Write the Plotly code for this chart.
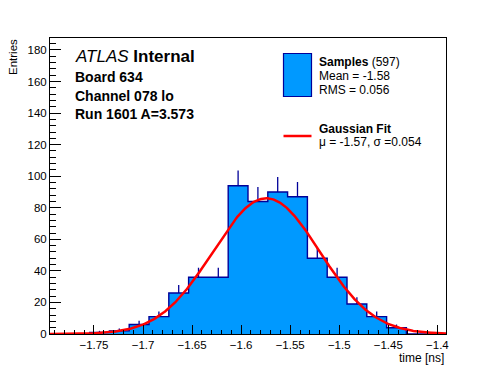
import numpy as np
import plotly.graph_objects as go

# ---------------- data ----------------
x_min, x_max = -1.7948, -1.3912          # histogram range (ns)
counts = [0, 0, 1, 2, 6, 11, 26, 36, 36, 94, 84, 90, 87, 48, 36, 19, 11, 4, 0, 0]
fit_amp, fit_mu, fit_sigma = 86.0, -1.5743, 0.0545

x_tickvals = [-1.75, -1.7, -1.65, -1.6, -1.55, -1.5, -1.45, -1.4]
x_ticktext = ["\u22121.75", "\u22121.7", "\u22121.65", "\u22121.6", "\u22121.55", "\u22121.5", "\u22121.45", "\u22121.4"]
y_tickvals = [0, 20, 40, 60, 80, 100, 120, 140, 160, 180]
y_max = 187.6

info_lines = ["<i>ATLAS</i> <b>Internal</b>", "<b>Board 634</b>", "<b>Channel 078 lo</b>", "<b>Run 1601 A=3.573</b>"]
legend_hist = ["<b>Samples</b> (597)", "Mean = -1.58", "RMS = 0.056"]
legend_fit = ["<b>Gaussian Fit</b>", "\u03bc = -1.57, \u03c3 =0.054"]

FILL = "#0099ff"
EDGE = "#000099"
FONT = "Liberation Sans, Arial, Helvetica, sans-serif"

# ---------------- derived ----------------
n_bins = len(counts)
edges = np.linspace(x_min, x_max, n_bins + 1)
centers = 0.5 * (edges[:-1] + edges[1:])
cnt = np.array(counts, dtype=float)
errs = np.sqrt(cnt)
xf = np.linspace(x_min, x_max, 500)
yf = fit_amp * np.exp(-0.5 * ((xf - fit_mu) / fit_sigma) ** 2)

W, H = 496, 372
L, R, T, B = 50, 446, 38, 334
def px(x):
    return (x - L) / (R - L)
def py(y):
    return (B - y) / (B - T)

fig = go.Figure()
fig.add_trace(go.Scatter(
    x=list(edges), y=list(cnt) + [cnt[-1]], mode="lines", line_shape="hv",
    line=dict(color=EDGE, width=1.4), fill="tozeroy", fillcolor=FILL,
    hoverinfo="skip", showlegend=False))
fig.add_trace(go.Scatter(
    x=centers, y=cnt, mode="markers", marker=dict(size=1, color="rgba(0,0,0,0)"),
    error_y=dict(type="data", symmetric=False, array=errs, arrayminus=np.zeros(n_bins),
                 width=0, color=EDGE, thickness=1.3),
    showlegend=False))
fig.add_trace(go.Scatter(x=xf, y=yf, mode="lines", line=dict(color="#ff0000", width=2.5),
                         showlegend=False))

ann = []
# info block
info_y = [56.7, 76.7, 96.0, 113.7]
info_size = [17, 14, 14, 14]
for t, yy, s in zip(info_lines, info_y, info_size):
    ann.append(dict(text=t, x=px(73), y=py(yy), xref="paper", yref="paper",
                    xanchor="left", yanchor="middle", showarrow=False,
                    font=dict(family=FONT, size=s, color="black")))
# legend text
for t, yy in zip(legend_hist, [61.7, 76.0, 90.0]):
    ann.append(dict(text=t, x=px(317), y=py(yy), xref="paper", yref="paper",
                    xanchor="left", yanchor="middle", showarrow=False,
                    font=dict(family=FONT, size=12, color="black")))
for t, yy in zip(legend_fit, [129.3, 141.5]):
    ann.append(dict(text=t, x=px(317), y=py(yy), xref="paper", yref="paper",
                    xanchor="left", yanchor="middle", showarrow=False,
                    font=dict(family=FONT, size=12, color="black")))
# axis titles
ann.append(dict(text="Entries", x=px(13), y=py(37), xref="paper", yref="paper",
                xanchor="center", yanchor="top", textangle=-90, showarrow=False,
                font=dict(family=FONT, size=11.5, color="black")))
ann.append(dict(text="time [ns]", x=1.0, y=py(357.5), xref="paper", yref="paper",
                xanchor="right", yanchor="middle", showarrow=False,
                font=dict(family=FONT, size=12, color="black")))

shapes = [
    dict(type="rect", xref="paper", yref="paper", x0=px(283.5), x1=px(311.5),
         y0=py(96.5), y1=py(53.5), fillcolor=FILL, line=dict(color=EDGE, width=1.2)),
    dict(type="line", xref="paper", yref="paper", x0=px(283.5), x1=px(311.5),
         y0=py(136), y1=py(136), line=dict(color="#ff0000", width=2.5)),
]

fig.update_layout(
    width=W, height=H, margin=dict(l=L, r=W - R, t=T, b=H - B),
    paper_bgcolor="white", plot_bgcolor="white",
    font=dict(family=FONT, size=11.5, color="black"),
    annotations=ann, shapes=shapes, showlegend=False,
    xaxis=dict(range=[x_min, x_max], showgrid=False, zeroline=False,
               showline=True, linecolor="black", linewidth=1, mirror=True,
               ticks="inside", ticklen=9, tickcolor="black", tickwidth=1,
               tickvals=x_tickvals, ticktext=x_ticktext,
               minor=dict(ticks="inside", ticklen=4.5, dtick=0.01, tick0=-1.75,
                          tickcolor="black", showgrid=False),
               tickfont=dict(family=FONT, size=11.5)),
    yaxis=dict(range=[0, y_max], showgrid=False, zeroline=False,
               showline=True, linecolor="black", linewidth=1, mirror=True,
               ticks="inside", ticklen=11, tickcolor="black", tickwidth=1,
               tickvals=y_tickvals,
               minor=dict(ticks="inside", ticklen=5.5, dtick=4, tick0=0,
                          tickcolor="black", showgrid=False),
               tickfont=dict(family=FONT, size=11.5)),
)

fig.write_html("out.html", config={"displayModeBar": False},
               post_script="document.body.style.margin='0px';")
